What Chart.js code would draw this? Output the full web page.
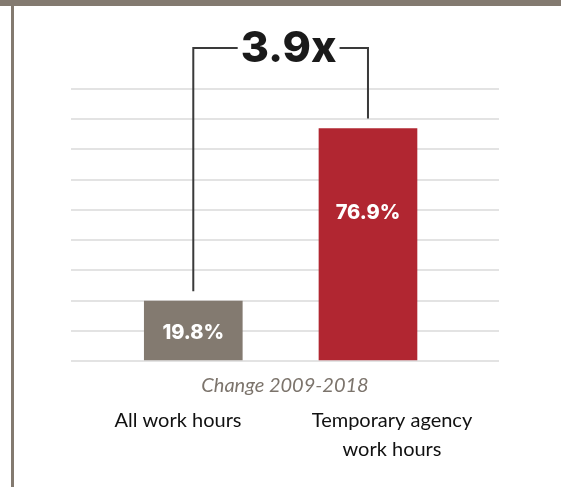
<!DOCTYPE html>
<html>
<head>
<meta charset="utf-8">
<script src="https://cdn.jsdelivr.net/npm/chart.js@4/dist/chart.umd.min.js"></script>
<style>
  html, body { margin: 0; padding: 0; background: #fff; }
  #frame { position: relative; width: 561px; height: 487px; overflow: hidden; }
  #topband { position: absolute; left: 0; top: 0; width: 561px; height: 6px; background: #837a70; }
  #leftbar { position: absolute; left: 11px; top: 0; width: 3px; height: 487px; background: #837a70; }
  #wrap { position: absolute; left: 0; top: 0; width: 561px; height: 487px; }
</style>
</head>
<body>
<div id="frame">
  <div id="wrap"><canvas id="chart"></canvas></div>
  <div id="topband"></div>
  <div id="leftbar"></div>
</div>
<script>
// data
const categories = ["All work hours", ["Temporary agency", "work hours"]];
const values = [19.8, 76.9];
const valueLabels = ["19.8%", "76.9%"];
const barColors = ["#837a70", "#b12631"];
const axisTitle = "Change 2009-2018";
const ratioLabel = "3.9x";

/* =========================
   PLUGINS
========================= */

const barText = {
  id: "barText",
  afterDatasetsDraw(chart) {
    const ctx = chart.ctx;
    const meta = chart.getDatasetMeta(0);
    ctx.save();
    ctx.fillStyle = "#ffffff";
    ctx.font = "800 20px Inter, 'Open Sans', sans-serif";
    ctx.textAlign = "center";
    ctx.textBaseline = "middle";
    meta.data.forEach((bar, i) => {
      const y = i === 0 ? (bar.y + bar.base) / 2 + 2 : bar.y + 84;
      ctx.fillText(valueLabels[i], bar.x, y);
    });
    ctx.restore();
  },
};

const bracket = {
  id: "bracket",
  afterDraw(chart) {
    const ctx = chart.ctx;
    const meta = chart.getDatasetMeta(0);
    const a = meta.data[0];
    const b = meta.data[1];
    const top = 48;
    const mid = (a.x + b.x) / 2 + 8;
    ctx.save();
    ctx.font = "800 43px Inter, 'Open Sans', sans-serif";
    const w = ctx.measureText(ratioLabel).width;
    ctx.strokeStyle = "#3a3a3a";
    ctx.lineWidth = 2;
    ctx.beginPath();
    ctx.moveTo(a.x, a.y - 10);
    ctx.lineTo(a.x, top);
    ctx.lineTo(mid - w / 2 - 3, top);
    ctx.moveTo(mid + w / 2 + 3, top);
    ctx.lineTo(b.x, top);
    ctx.lineTo(b.x, b.y - 10);
    ctx.stroke();
    ctx.fillStyle = "#1a1a1a";
    ctx.textAlign = "center";
    ctx.textBaseline = "middle";
    ctx.fillText(ratioLabel, mid, top + 1);
    ctx.restore();
  },
};

/* =========================
   CHART
========================= */

const chart = new Chart(document.getElementById("chart"), {
  type: "bar",
  data: {
    labels: categories,
    datasets: [
      {
        data: values.map((v, i) => ({ x: i, y: v })),
        backgroundColor: barColors,
        barThickness: 98,
        xAxisID: "x",
      },
    ],
  },
  options: {
    responsive: true,
    maintainAspectRatio: false,
    animation: false,
    layout: { padding: { left: 71, right: 62, top: 89, bottom: 23 } },
    plugins: { legend: { display: false }, tooltip: { enabled: false } },
    scales: {
      x: {
        type: "linear",
        min: -0.7,
        max: 1.75,
        offset: false,
        weight: 0,
        ticks: { display: false },
        grid: { display: false },
        border: { display: false },
        title: {
          display: true,
          text: axisTitle,
          color: "#7c746c",
          font: { family: "Lato, 'Open Sans', sans-serif", size: 20, style: "italic" },
          padding: { top: 5, bottom: 0 },
        },
      },
      x2: {
        type: "category",
        position: "bottom",
        weight: 1,
        offset: true,
        grid: { display: false },
        border: { display: false },
        ticks: {
          color: "#111111",
          font: { family: "Lato, 'Open Sans', sans-serif", size: 20, lineHeight: 1.45 },
          padding: 0,
          maxRotation: 0,
        },
      },
      y: {
        min: 0,
        max: 90,
        ticks: { display: false, stepSize: 10 },
        grid: { color: "#e3e3e3", lineWidth: 2, drawTicks: false },
        border: { display: false },
      },
    },
  },
  plugins: [barText, bracket],
});
</script>
</body>
</html>
